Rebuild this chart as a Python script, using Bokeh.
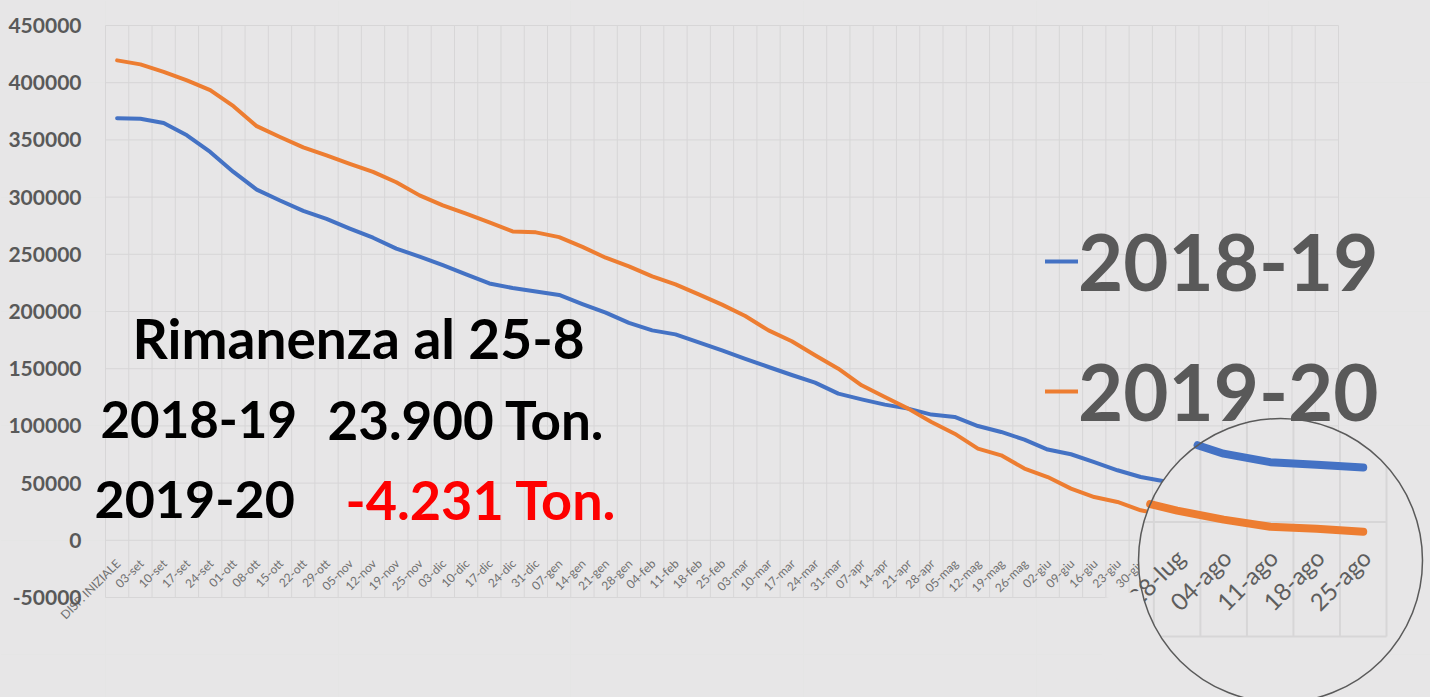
import math
from bokeh.plotting import figure
from bokeh.models import (Range1d, Label, Legend, LegendItem, GlobalInlineStyleSheet)
from bokeh.core.properties import value
from bokeh.embed import file_html
from bokeh.resources import INLINE

# ---------------- data ----------------
CATEGORIES = [
    "DISP. INIZIALE", "03-set", "10-set", "17-set", "24-set",
    "01-ott", "08-ott", "15-ott", "22-ott", "29-ott",
    "05-nov", "12-nov", "19-nov", "25-nov",
    "03-dic", "10-dic", "17-dic", "24-dic", "31-dic",
    "07-gen", "14-gen", "21-gen", "28-gen",
    "04-feb", "11-feb", "18-feb", "25-feb",
    "03-mar", "10-mar", "17-mar", "24-mar", "31-mar",
    "07-apr", "14-apr", "21-apr", "28-apr",
    "05-mag", "12-mag", "19-mag", "26-mag",
    "02-giu", "09-giu", "16-giu", "23-giu", "30-giu",
    "07-lug", "14-lug", "21-lug", "28-lug",
    "04-ago", "11-ago", "18-ago", "25-ago",
]

SERIES_2018_19 = [
    369000, 368500, 364700, 354000, 339500,
    322000, 306500, 297000, 288000, 281000,
    272500, 264500, 255000, 248000,
    240500, 232500, 224500, 220500, 217500,
    214500, 206500, 199000, 190000,
    183500, 180000, 173000, 166000,
    158500, 151500, 144500, 137800, 128200,
    123200, 118600, 115100, 109900,
    107800, 99900, 94700, 88000,
    79300, 75200, 68400, 61200, 55300,
    51600, 46500, 41500, 36500,
    29900, 26200, 25100, 23900,
]

SERIES_2019_20 = [
    419500, 416000, 409500, 402000, 393500,
    379500, 362000, 352500, 343500, 336500,
    329000, 322000, 313000, 301500,
    292800, 285500, 278000, 270000, 269200,
    265000, 256500, 247000, 239500,
    230700, 223700, 215000, 206000,
    196000, 183500, 174000, 161700, 150000,
    135500, 125300, 115100, 103400,
    93200, 80100, 74300, 62700,
    55300, 45200, 37800, 33500, 26200,
    22000, 16000, 10000, 5000,
    1100, -2000, -2900, -4231,
]

SERIES_NAMES = ["2018-19", "2019-20"]
Y_TICKS = [-50000, 0, 50000, 100000, 150000, 200000, 250000, 300000, 350000, 400000, 450000]
NOTE_TITLE = "Rimanenza al 25-8"
NOTE_VALUES = ["23.900 Ton.", "-4.231 Ton."]

# ---------------- layout / style ----------------
W, H = 1430, 697
BG = "#e7e6e7"
GRID = "#d7d6d7"
BLUE = "#4472c4"
ORANGE = "#ed7d31"
AXC = "#595959"
FONT = "Lato"

L, R = 105, 1338         # plot area left/right (px)
T, B = 25, 597           # plot area top/bottom (px)
n = len(CATEGORIES)
kx = (R - L) / n
ymin, ymax = Y_TICKS[0], Y_TICKS[-1]
ky = (B - T) / (ymax - ymin)
x0 = -L / kx
y0 = ymin - (H - B) / ky


def dx(px):
    return x0 + px / kx


def dy(pyb):
    return y0 + pyb / ky


p = figure(width=W, height=H,
           x_range=Range1d(dx(0), dx(W)), y_range=Range1d(dy(0), dy(H)),
           x_axis_location=None, y_axis_location=None,
           toolbar_location=None, min_border=0, output_backend="svg")
p.background_fill_color = BG
p.border_fill_color = BG
p.outline_line_color = None
p.stylesheets = [GlobalInlineStyleSheet(css="html, body { background-color: #e7e6e7; overflow: hidden; }")]

# magnifier geometry
M = 2.0
Cx, Cyb = 1290, H - 558        # zoom centre (px, bottom-up y)
Dx, Dyb, RAD = 1280, H - 560, 142  # lens circle


def mdx(s):
    return dx(Cx + (s - Cx) / M)


def mdy(sb):
    return dy(Cyb + (sb - Cyb) / M)


p.extra_x_ranges = {"mx": Range1d(mdx(0), mdx(W)), "sx": Range1d(0, W)}
p.extra_y_ranges = {"my": Range1d(mdy(0), mdy(H)), "sy": Range1d(0, H)}

xc = [i + 0.5 for i in range(n)]
bounds = list(range(n + 1))

LABEL_DROP = 21      # px below the zero line (main)
MAG_DROP = 31        # px below the zero line (lens)

# ---------------- main chart ----------------
p.segment(x0=bounds, y0=[ymin] * len(bounds), x1=bounds, y1=[ymax] * len(bounds),
          line_color=GRID, line_width=1)
p.segment(x0=[0] * len(Y_TICKS), y0=Y_TICKS, x1=[n] * len(Y_TICKS), y1=Y_TICKS,
          line_color=GRID, line_width=1)

r_blue = p.line(xc, SERIES_2018_19, line_color=BLUE, line_width=4,
                line_join="round", line_cap="round")
r_orange = p.line(xc, SERIES_2019_20, line_color=ORANGE, line_width=4,
                  line_join="round", line_cap="round")

p.text(x=xc, y=[0] * n, text=CATEGORIES, angle=math.pi / 4,
       text_align="right", text_baseline="middle", y_offset=LABEL_DROP, x_offset=1,
       text_font=value(FONT), text_font_size="12px", text_color="#707070")

p.text(x=[0] * len(Y_TICKS), y=Y_TICKS, text=[str(t) for t in Y_TICKS],
       text_align="right", text_baseline="middle", x_offset=-24,
       text_font=value(FONT), text_font_size="21px", text_font_style="bold",
       text_color=AXC)

# ---------------- magnifier ----------------
p.circle(x=[Dx], y=[Dyb], radius=RAD, fill_color=BG, line_color=None,
         x_range_name="sx", y_range_name="sy")

ecx, ecy = mdx(Dx), mdy(Dyb)
erx, ery = RAD / (kx * M), RAD / (ky * M)


def clip_polyline(xs, ys):
    pieces, cur = [], []
    for i in range(len(xs) - 1):
        ax, ay = (xs[i] - ecx) / erx, (ys[i] - ecy) / ery
        bx, by = (xs[i + 1] - ecx) / erx, (ys[i + 1] - ecy) / ery
        ddx, ddy = bx - ax, by - ay
        a = ddx * ddx + ddy * ddy
        b = 2 * (ax * ddx + ay * ddy)
        c = ax * ax + ay * ay - 1
        disc = b * b - 4 * a * c
        if a == 0 or disc <= 0:
            if cur:
                pieces.append(cur)
                cur = []
            continue
        sq = math.sqrt(disc)
        lo = max((-b - sq) / (2 * a), 0.0)
        hi = min((-b + sq) / (2 * a), 1.0)
        if lo >= hi:
            if cur:
                pieces.append(cur)
                cur = []
            continue

        def pt(t):
            return (xs[i] + t * (xs[i + 1] - xs[i]), ys[i] + t * (ys[i + 1] - ys[i]))
        if cur and lo > 0:
            pieces.append(cur)
            cur = []
        if not cur:
            cur = [pt(lo)]
        cur.append(pt(hi))
        if hi < 1:
            pieces.append(cur)
            cur = []
    if cur:
        pieces.append(cur)
    return [[q[0] for q in pc] for pc in pieces], [[q[1] for q in pc] for pc in pieces]


gx, gy = [], []
for k in bounds:
    a, b = clip_polyline([k, k], [ymin, ymax])
    gx += a
    gy += b
for v in Y_TICKS:
    a, b = clip_polyline([0, n], [v, v])
    gx += a
    gy += b
p.multi_line(gx, gy, line_color=GRID, line_width=2, x_range_name="mx", y_range_name="my")

for series, col in ((SERIES_2018_19, BLUE), (SERIES_2019_20, ORANGE)):
    a, b = clip_polyline(xc, series)
    p.multi_line(a, b, line_color=col, line_width=8, line_join="round", line_cap="round",
                 x_range_name="mx", y_range_name="my")

# magnified category labels whose anchor falls inside the lens
zero_top = T + ymax * ky
inside = []
for i in range(n):
    sx_main = L + (i + 0.5) * kx
    sx_m = Cx + M * (sx_main - Cx)
    sy_m = (H - Cyb) + M * (zero_top - (H - Cyb)) + MAG_DROP
    if math.hypot(sx_m - Dx, sy_m - (H - Dyb)) < RAD:
        inside.append(i)
p.text(x=[xc[i] for i in inside], y=[0] * len(inside), text=[CATEGORIES[i] for i in inside],
       angle=math.pi / 4, text_align="right", text_baseline="middle",
       y_offset=MAG_DROP, x_offset=3,
       text_font=value(FONT), text_font_size="24px", text_color="#5e5e5e",
       x_range_name="mx", y_range_name="my")

p.annular_wedge(x=[Dx], y=[Dyb], inner_radius=RAD + 0.5, outer_radius=RAD + 60,
                start_angle=math.radians(192), end_angle=math.radians(240),
                fill_color=BG, line_color=None, x_range_name="sx", y_range_name="sy")

p.circle(x=[Dx], y=[Dyb], radius=RAD, fill_color=None, line_color="#5a5a5a",
         line_width=1.5, x_range_name="sx", y_range_name="sy")

# ---------------- legend ----------------
for name, rend, loc in ((SERIES_NAMES[0], r_blue, (1045, 389)),
                        (SERIES_NAMES[1], r_orange, (1045, 259))):
    lg = Legend(items=[LegendItem(label=name, renderers=[rend])], location=loc,
                label_text_font=FONT, label_text_font_size="78px",
                label_text_font_style="bold", label_text_color=AXC,
                glyph_width=33, glyph_height=20, label_standoff=0,
                padding=0, margin=0, spacing=0,
                border_line_color=None, background_fill_alpha=0)
    p.add_layout(lg)


# ---------------- notes ----------------
def note(text, x, yb, size, color="black"):
    p.add_layout(Label(x=x, y=yb, x_units="screen", y_units="screen", text=text,
                       text_font=FONT, text_font_size=size, text_color=color,
                       text_font_style="bold", text_baseline="alphabetic"))


note(NOTE_TITLE, 132, H - 337, "55px")
note(SERIES_NAMES[0], 100, H - 419, "51px")
note(NOTE_VALUES[0], 327, H - 419, "53px")
note(SERIES_NAMES[1], 94, H - 499, "52px")
note(NOTE_VALUES[1], 345, H - 499, "54px", "#fe0000")

open("out.html", "w").write(file_html(p, INLINE))
